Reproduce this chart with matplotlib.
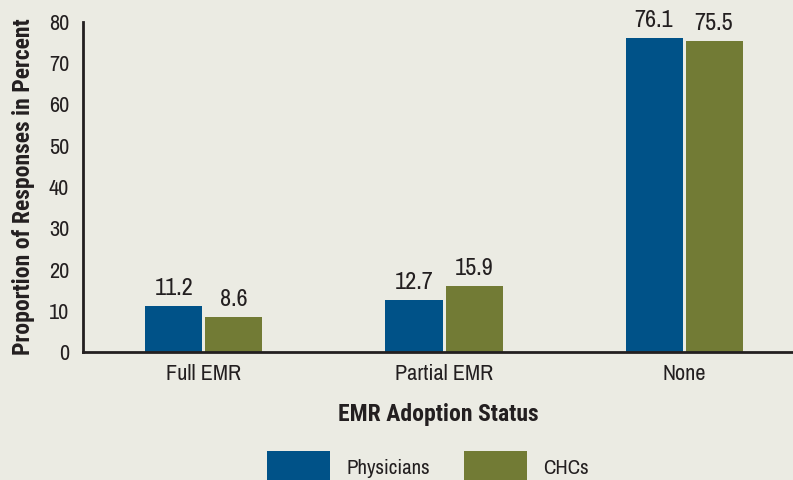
import matplotlib
matplotlib.use("Agg")
import matplotlib.pyplot as plt
import numpy as np

plt.rcParams['font.family'] = ['Archivo Narrow', 'DejaVu Sans']
bold_font = ['Roboto Condensed', 'Fira Sans Condensed', 'DejaVu Sans']

categories = ['Full EMR', 'Partial EMR', 'None']
physicians = [11.2, 12.7, 76.1]
chcs = [8.6, 15.9, 75.5]
series_names = ['Physicians', 'CHCs']

bg = '#ebebe3'
blue = '#005288'
olive = '#727b35'
ink = '#231f20'

fig = plt.figure(figsize=(7.93, 4.8), dpi=100, facecolor=bg)
ax = fig.add_axes([83 / 793, 128 / 480, 1 - 83 / 793, 330 / 480])
ax.set_facecolor(bg)

x = np.arange(len(categories))
w = 0.2375
b1 = ax.bar(x - 0.125, physicians, w, color=blue, label=series_names[0])
b2 = ax.bar(x + 0.125, chcs, w, color=olive, label=series_names[1])

for bars, vals in ((b1, physicians), (b2, chcs)):
    for r, v in zip(bars, vals):
        ax.annotate(f'{v:.1f}', (r.get_x() + r.get_width() / 2, v),
                    xytext=(0, 5), textcoords='offset points',
                    ha='center', va='bottom', fontsize=17.5, color=ink)

ax.set_xlim(-0.504, 2.454)
ax.set_ylim(0, 80)
ax.set_yticks(range(0, 81, 10))
ax.set_xticks(x)
ax.set_xticklabels(categories)
ax.tick_params(length=0, labelsize=16, colors=ink, pad=10)
ax.tick_params(axis='x', pad=9)

for s in ['top', 'right']:
    ax.spines[s].set_visible(False)
for s in ['left', 'bottom']:
    ax.spines[s].set_linewidth(2)
    ax.spines[s].set_color(ink)

ax.set_ylabel('Proportion of Responses in Percent', fontsize=17,
              fontweight='bold', family=bold_font, color=ink, labelpad=10)
ax.set_xlabel('EMR Adoption Status', fontsize=17, fontweight='bold',
              family=bold_font, color=ink, labelpad=13)

fig.legend(handles=[b1, b2], loc='upper left', ncol=2,
           bbox_to_anchor=(267 / 793, 1 - 451 / 480), frameon=False,
           fontsize=15, handlelength=3.0, handleheight=2.0,
           handletextpad=0.8, columnspacing=1.65, borderpad=0,
           borderaxespad=0, labelcolor=ink)

fig.savefig('out.png', dpi=100, facecolor=bg)
